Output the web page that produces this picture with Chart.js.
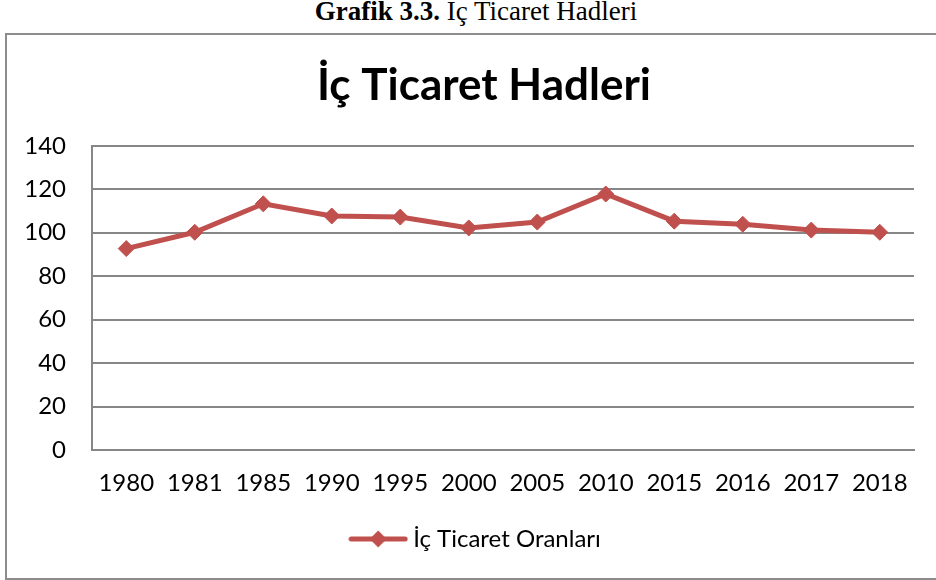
<!DOCTYPE html>
<html><head><meta charset="utf-8">
<script src="https://cdn.jsdelivr.net/npm/chart.js@4.4.0/dist/chart.umd.min.js"></script>
<style>
html,body{margin:0;padding:0;background:#fff;width:936px;height:580px;overflow:hidden;}
#caption{position:absolute;left:0;top:-1px;width:952px;text-align:center;font-family:"Liberation Serif","Times New Roman",serif;font-size:27px;color:#000;line-height:24px;white-space:nowrap;}
#box{position:absolute;left:5px;top:33px;width:940px;height:547px;border:2px solid #8c8c8c;box-sizing:border-box;}
#wrap{position:absolute;left:0;top:0;width:936px;height:580px;}
</style></head><body>
<div id="caption"><b>Grafik 3.3.</b> İç Ticaret Hadleri</div>
<div id="box"></div>
<div id="wrap"><canvas id="c"></canvas></div>
<script>
const chartTitle = "İç Ticaret Hadleri";
const seriesName = "İç Ticaret Oranları";
const years = ["1980","1981","1985","1990","1995","2000","2005","2010","2015","2016","2017","2018"];
const values = [92.7, 100.2, 113.3, 107.7, 107.2, 102.2, 104.9, 117.8, 105.3, 103.9, 101.2, 100.2];
const yTicks = [0, 20, 40, 60, 80, 100, 120, 140];

const RED = "#C0504D";
const GRID = "#878787";
const FONT = "Lato, 'Open Sans', sans-serif";

// legend swatch: line with diamond marker
const sw = document.createElement("canvas");
sw.width = 60; sw.height = 20;
(function(){
  const g = sw.getContext("2d");
  g.strokeStyle = RED; g.lineWidth = 5; g.lineCap = "round";
  g.beginPath(); g.moveTo(3, 10); g.lineTo(57, 10); g.stroke();
  g.fillStyle = RED;
  g.beginPath(); g.moveTo(30 - 8.5, 10); g.lineTo(30, 10 - 8.5); g.lineTo(30 + 8.5, 10); g.lineTo(30, 10 + 8.5); g.closePath(); g.fill();
})();

// centre title and legend within the outer frame rather than the chart area
const frameCentering = {
  id: "frameCentering",
  afterLayout(chart) {
    if (chart.titleBlock) { chart.titleBlock.left = 54; chart.titleBlock.right = 914; }
    if (chart.legend) { chart.legend.left = 42; chart.legend.right = 914; }
  }
};

new Chart(document.getElementById("c"), {
  type: "line",
  plugins: [frameCentering],
  data: {
    labels: years,
    datasets: [{
      label: seriesName,
      data: values,
      borderColor: RED,
      backgroundColor: RED,
      borderWidth: 5,
      pointStyle: "rectRot",
      pointRadius: 8,
      pointBorderWidth: 1,
      pointBackgroundColor: RED,
      pointBorderColor: RED,
      tension: 0
    }]
  },
  options: {
    responsive: true,
    maintainAspectRatio: false,
    animation: false,
    devicePixelRatio: 1,
    layout: { padding: { left: 0, right: 22, top: 59, bottom: 19 } },
    plugins: {
      tooltip: { enabled: false },
      title: {
        display: true,
        text: chartTitle,
        color: "#000",
        font: { family: FONT, size: 44, weight: "bold" },
        padding: { top: 0, bottom: 34 }
      },
      legend: {
        position: "bottom",
        labels: {
          color: "#000",
          font: { family: FONT, size: 24 },
          usePointStyle: true,
          pointStyleWidth: 46,
          boxHeight: 20,
          padding: 10,
          generateLabels: (chart) => [{
            text: seriesName,
            pointStyle: sw,
            fillStyle: RED,
            strokeStyle: RED,
            lineWidth: 0,
            datasetIndex: 0,
            hidden: false
          }]
        }
      }
    },
    scales: {
      x: {
        offset: true,
        grid: { display: false, drawTicks: false },
        border: { display: true, color: GRID, width: 2 },
        ticks: { color: "#000", font: { family: FONT, size: 24 }, padding: 19, maxRotation: 0, autoSkip: false },
        afterFit: (s) => { s.height = 67; }
      },
      y: {
        min: 0, max: 140,
        afterBuildTicks: (s) => { s.ticks = yTicks.map(v => ({ value: v })); },
        grid: { color: GRID, lineWidth: 2, drawTicks: false },
        border: { display: true, color: GRID, width: 2 },
        ticks: { color: "#000", font: { family: FONT, size: 24 }, padding: 26 },
        afterFit: (s) => { s.width = 92; }
      }
    }
  }
});
</script>
</body></html>
